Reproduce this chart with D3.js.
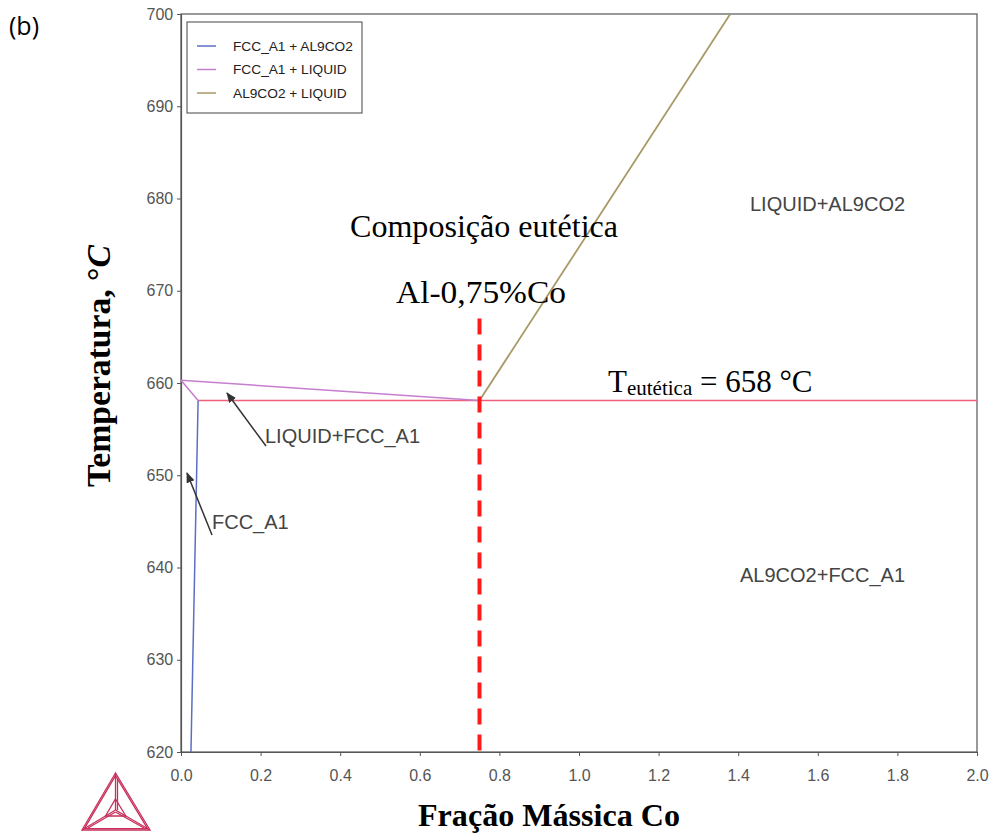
<!DOCTYPE html>
<html><head><meta charset="utf-8">
<script src="https://cdn.jsdelivr.net/npm/d3@7"></script>
<style>body{margin:0;background:#fff}svg{display:block}</style>
</head><body>
<script>
const xTicks = [0.0,0.2,0.4,0.6,0.8,1.0,1.2,1.4,1.6,1.8,2.0];
const yTicks = [620,630,640,650,660,670,680,690,700];
const seriesNames = ["FCC_A1 + AL9CO2","FCC_A1 + LIQUID","AL9CO2 + LIQUID"];
const seriesColors = ["#5b6fc4","#c67ed0","#a89a68"];
const fccAl9 = [[0.025,620],[0.043,658.1]];
const fccLiq1 = [[0.0,660.3],[0.75,658.1]];
const fccLiq2 = [[0.0,660.3],[0.043,658.1]];
const al9Liq = [[0.75,658.1],[1.38,700]];
const eutecticLine = [[0.043,658.1],[2.0,658.1]];
const eutecticComp = [[0.75,667],[0.75,620]];

const W=994,H=834;
const svg=d3.select("body").append("svg").attr("width",W).attr("height",H);
const m={l:181,r:977,t:14,b:752};
const x=d3.scaleLinear().domain([0,2]).range([m.l,m.r]);
const y=d3.scaleLinear().domain([620,700]).range([m.b,m.t]);

svg.append("rect").attr("x",m.l).attr("y",m.t).attr("width",m.r-m.l).attr("height",m.b-m.t)
  .attr("fill","none").attr("stroke","#555").attr("stroke-width",1.2);

const ax=svg.append("g").attr("transform",`translate(0,${m.b})`)
  .call(d3.axisBottom(x).tickValues(xTicks).tickFormat(d3.format(".1f")).tickSize(4).tickSizeOuter(0));
const ay=svg.append("g").attr("transform",`translate(${m.l},0)`)
  .call(d3.axisLeft(y).tickValues(yTicks).tickFormat(d3.format("d")).tickSize(4).tickSizeOuter(0));
[ax,ay].forEach(g=>{
  g.select(".domain").attr("stroke","#555").attr("stroke-width",1.2);
  g.selectAll(".tick line").attr("stroke","#555");
  g.selectAll(".tick text").attr("fill","#555").attr("font-family","Liberation Sans, Arial, sans-serif").attr("font-size",16);
});
ax.selectAll(".tick text").attr("dy","1.4em");
ay.selectAll(".tick text").attr("dx","-0.05em");

const line=d3.line().x(d=>x(d[0])).y(d=>y(d[1]));
svg.append("path").attr("d",line(eutecticLine)).attr("stroke","#f0607a").attr("stroke-width",1.5).attr("fill","none");
svg.append("path").attr("d",line(fccAl9)).attr("stroke",seriesColors[0]).attr("stroke-width",1.5).attr("fill","none");
svg.append("path").attr("d",line(fccLiq1)).attr("stroke",seriesColors[1]).attr("stroke-width",1.5).attr("fill","none");
svg.append("path").attr("d",line(fccLiq2)).attr("stroke",seriesColors[1]).attr("stroke-width",1.5).attr("fill","none");
svg.append("path").attr("d",line(al9Liq)).attr("stroke",seriesColors[2]).attr("stroke-width",1.8).attr("fill","none");
svg.append("path").attr("d",line(eutecticComp)).attr("stroke","#ff1a1a").attr("stroke-width",4).attr("stroke-dasharray","16,10").attr("fill","none");

// legend
const lg=svg.append("g");
lg.append("rect").attr("x",187).attr("y",22).attr("width",175).attr("height",91).attr("fill","#fff").attr("stroke","#444").attr("stroke-width",1);
seriesNames.forEach((n,i)=>{
  const yy=46+i*23.5;
  lg.append("line").attr("x1",197).attr("x2",216).attr("y1",yy).attr("y2",yy).attr("stroke",seriesColors[i]).attr("stroke-width",1.5);
  lg.append("text").attr("x",233).attr("y",yy+4.5).text(n).attr("font-family","Liberation Sans, Arial, sans-serif").attr("font-size",13.7).attr("fill","#222");
});

const lab=(t,xx,yy)=>svg.append("text").attr("x",xx).attr("y",yy).text(t).attr("font-family","Liberation Sans, Arial, sans-serif").attr("font-size",20).attr("fill","#444");
lab("LIQUID+AL9CO2",750,211);
lab("AL9CO2+FCC_A1",740,582);
lab("LIQUID+FCC_A1",265,443);
lab("FCC_A1",212,529);

svg.append("defs").append("marker").attr("id","ah").attr("viewBox","0 0 10 10").attr("refX",9).attr("refY",5)
 .attr("markerWidth",7).attr("markerHeight",7).attr("orient","auto")
 .append("path").attr("d","M0,1 L10,5 L0,9 z").attr("fill","#333");
svg.append("line").attr("x1",266).attr("y1",446).attr("x2",227).attr("y2",393).attr("stroke","#333").attr("stroke-width",1.5).attr("marker-end","url(#ah)");
svg.append("line").attr("x1",212).attr("y1",535).attr("x2",187).attr("y2",473).attr("stroke","#333").attr("stroke-width",1.5).attr("marker-end","url(#ah)");

const serif="Liberation Serif, Times New Roman, serif";
svg.append("text").attr("x",350).attr("y",237).attr("font-family",serif).attr("font-size",32).attr("fill","#000")
  .attr("textLength",268).attr("lengthAdjust","spacingAndGlyphs").text("Composição eutética");
svg.append("text").attr("x",396).attr("y",303).attr("font-family",serif).attr("font-size",32).attr("fill","#000")
  .attr("textLength",170).attr("lengthAdjust","spacingAndGlyphs").text("Al-0,75%Co");
const te=svg.append("text").attr("x",608).attr("y",392).attr("font-family",serif).attr("font-size",31).attr("fill","#000");
te.append("tspan").text("T");
te.append("tspan").attr("font-size",21).attr("dy",3).text("eutética");
te.append("tspan").attr("dy",-3).text(" = 658 °C");

const yt=svg.append("text").attr("transform","translate(110,487) rotate(-90)")
 .attr("font-family",serif).attr("font-size",33).attr("font-weight","bold").attr("fill","#000")
 .attr("textLength",242).attr("lengthAdjust","spacingAndGlyphs");
yt.append("tspan").text("Temperatura, °");
yt.append("tspan").attr("font-style","italic").text("C");
svg.append("text").attr("x",418).attr("y",826).attr("font-family",serif).attr("font-size",32).attr("font-weight","bold").attr("fill","#000")
  .attr("textLength",262).attr("lengthAdjust","spacingAndGlyphs").text("Fração Mássica Co");

svg.append("text").attr("x",9).attr("y",35).attr("font-family","Open Sans, Liberation Sans, sans-serif").attr("font-size",25).attr("fill","#000").text("(b)");

// logo
const lgC="#c8305c";
const A=[115.5,773],B=[82,830],C=[150,830],O=[115.5,810];
const lo=svg.append("g").attr("fill","none").attr("stroke",lgC).attr("stroke-width",1.3);
const tri=(p,q,r)=>`M${p}L${q}L${r}Z`;
const shrink=(P,k)=>[O[0]+(P[0]-O[0])*k,O[1]+(P[1]-O[1])*k];
lo.append("path").attr("d",tri(A,B,C));
lo.append("path").attr("d",tri(shrink(A,0.93),shrink(B,0.93),shrink(C,0.93)));
[A,B,C].forEach(P=>{
  lo.append("line").attr("x1",P[0]).attr("y1",P[1]).attr("x2",O[0]).attr("y2",O[1]);
});
lo.append("path").attr("d",tri(shrink(A,0.3),shrink(B,0.3),shrink(C,0.3)));
lo.append("line").attr("x1",A[0]+2).attr("y1",A[1]+6).attr("x2",O[0]+2).attr("y2",O[1]);
lo.append("line").attr("x1",B[0]+6).attr("y1",B[1]-2).attr("x2",O[0]).attr("y2",O[1]+2);
lo.append("line").attr("x1",C[0]-6).attr("y1",C[1]-2).attr("x2",O[0]).attr("y2",O[1]+2);
</script>
</body></html>
